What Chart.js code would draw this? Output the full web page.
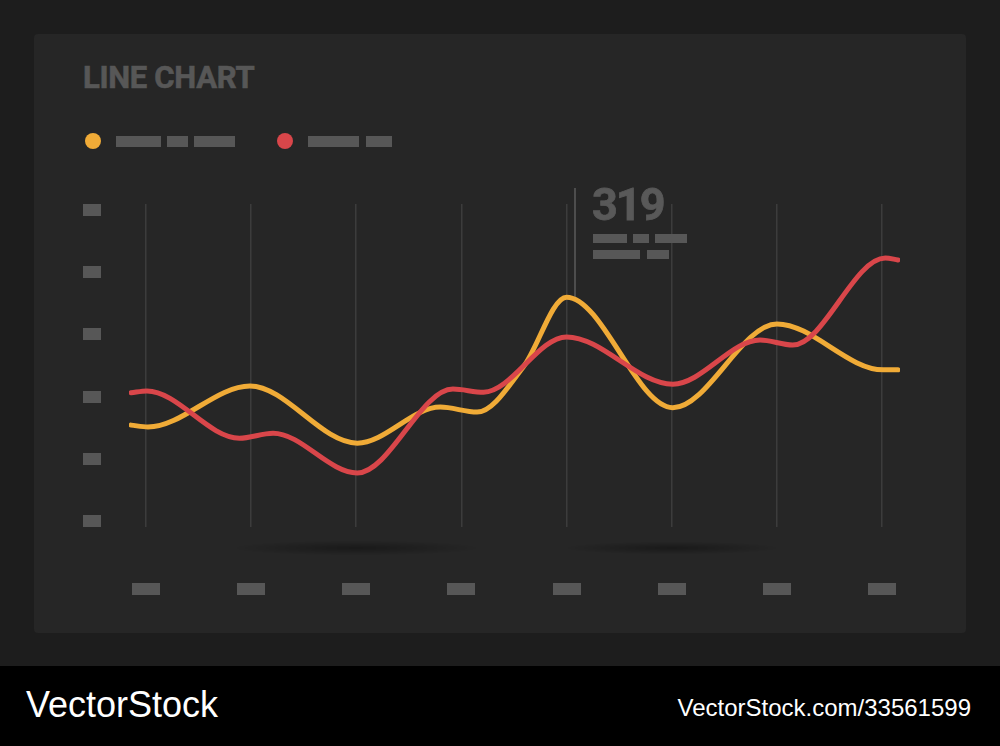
<!DOCTYPE html>
<html>
<head>
<meta charset="utf-8">
<script src="https://cdn.jsdelivr.net/npm/chart.js@4.4.0/dist/chart.umd.min.js"></script>
<style>
  html, body { margin: 0; padding: 0; }
  body { width: 1000px; height: 746px; background: #1d1d1d; position: relative; overflow: hidden; font-family: Roboto, sans-serif; }
  #panel { position: absolute; left: 34px; top: 34px; width: 932px; height: 599px; background: #262626; border-radius: 4px; }
  #title { position: absolute; left: 83px; top: 62px; font: 700 31px/1 Roboto, sans-serif; color: #575757; letter-spacing: -0.3px; white-space: nowrap; -webkit-text-stroke: 0.6px #575757; }
  #peak { position: absolute; left: 592px; top: 182px; font: 700 45px/1 Roboto, sans-serif; color: #595959; letter-spacing: -2px; -webkit-text-stroke: 0.8px #595959; }
  #wrap { position: absolute; left: 0; top: 0; width: 1000px; height: 666px; }
  #banner { position: absolute; left: 0; top: 666px; width: 1000px; height: 80px; background: #000; color: #fff; font-family: 'Liberation Sans', Arial, sans-serif; }
  #brand { position: absolute; left: 26px; top: 21px; font-size: 36px; line-height: 1; }
  #ref { position: absolute; right: 29px; top: 30px; font-size: 24px; line-height: 1; }
</style>
</head>
<body>
<div id="panel"></div>
<div id="title">LINE CHART</div>
<div id="wrap"><canvas id="lineChart" width="1000" height="666"></canvas></div>
<div id="peak"></div>
<div id="banner">
  <div id="brand">VectorStock</div>
  <div id="ref">VectorStock.com/33561599</div>
</div>
<script>
// values read off the picture; x is measured in grid columns (0..7)
// only the turning points are kept, the curve bends smoothly between them
const xTicks = [0, 1, 2, 3, 4, 5, 6, 7];
const yTicks = [0, 100, 200, 300, 400, 500];

const orangeX = [-0.14, 0.02, 0.99, 2.01, 2.80, 3.15, 3.59, 4.0, 5.01, 6.0, 7.01, 7.15];
const orangeY = [154, 151, 217, 125, 183, 175, 248, 360, 182, 317, 243, 243];

const redX = [-0.14, 0.01, 0.89, 1.21, 2.01, 2.92, 3.21, 4.0, 5.01, 5.84, 6.15, 7.03, 7.15];
const redY = [206, 209, 133, 141, 77, 212, 207, 296, 220, 291, 283, 423, 420];

const peakLabel = '319';
const peakX = 4.08;

const ORANGE = '#f0ab37';
const RED = '#d9464a';
const BLOCK = '#575757';

document.getElementById('peak').textContent = peakLabel;

function toPoints(xs, ys) {
    return xs.map((x, i) => ({ x: x, y: ys[i] }));
}

function block(ctx, x, y, w, h) {
    ctx.fillRect(Math.round(x), Math.round(y), Math.round(w), Math.round(h));
}

// placeholder ticks, legend, shadows and the peak marker
const decorations = {
    id: 'decorations',
    beforeDatasetsDraw(chart) {
        const ctx = chart.ctx;
        const xs = chart.scales.x;
        const ys = chart.scales.y;

        // soft shadows under the chart
        [[2.0, 1.15], [5.0, 1.0]].forEach(([cx, rx]) => {
            const px = xs.getPixelForValue(cx);
            const r = rx * 105;
            ctx.save();
            ctx.translate(px, 548);
            ctx.scale(1, 0.06);
            const g = ctx.createRadialGradient(0, 0, 0, 0, 0, r);
            g.addColorStop(0, 'rgba(0,0,0,0.32)');
            g.addColorStop(1, 'rgba(0,0,0,0)');
            ctx.fillStyle = g;
            ctx.beginPath();
            ctx.arc(0, 0, r, 0, Math.PI * 2);
            ctx.fill();
            ctx.restore();
        });

        ctx.save();
        ctx.fillStyle = BLOCK;
        yTicks.forEach(v => {
            const py = ys.getPixelForValue(v);
            block(ctx, 83, py - 6, 18, 12);
        });
        xTicks.forEach(v => {
            const px = xs.getPixelForValue(v);
            block(ctx, px - 14, 583, 28, 12);
        });

        // legend
        const legendItems = [
            { color: chart.data.datasets[0].borderColor, dot: 93, blocks: [[116, 45], [167, 21], [194, 41]] },
            { color: chart.data.datasets[1].borderColor, dot: 285, blocks: [[308, 51], [366, 26]] }
        ];
        legendItems.forEach(item => {
            ctx.fillStyle = item.color;
            ctx.beginPath();
            ctx.arc(item.dot, 141, 8, 0, Math.PI * 2);
            ctx.fill();
            ctx.fillStyle = BLOCK;
            item.blocks.forEach(([bx, bw]) => block(ctx, bx, 136, bw, 11));
        });

        // peak annotation
        const mx = xs.getPixelForValue(peakX);
        const my = ys.getPixelForValue(Math.max(...orangeY));
        ctx.strokeStyle = '#4d4d4d';
        ctx.lineWidth = 2;
        ctx.beginPath();
        ctx.moveTo(mx, 188);
        ctx.lineTo(mx, my);
        ctx.stroke();
        ctx.fillStyle = BLOCK;
        [[593, 34], [633, 16], [655, 32]].forEach(([bx, bw]) => block(ctx, bx, 234, bw, 9));
        [[593, 47], [647, 22]].forEach(([bx, bw]) => block(ctx, bx, 250, bw, 9));
        ctx.restore();
    }
};

const ctx = document.getElementById('lineChart').getContext('2d');
const chart = new Chart(ctx, {
    type: 'line',
    data: {
        datasets: [{
            label: 'Series 1',
            data: toPoints(orangeX, orangeY),
            borderColor: ORANGE,
            borderWidth: 5,
            pointRadius: 0,
            cubicInterpolationMode: 'monotone',
            borderCapStyle: 'round',
            borderJoinStyle: 'round',
            order: 2
        }, {
            label: 'Series 2',
            data: toPoints(redX, redY),
            borderColor: RED,
            borderWidth: 5,
            pointRadius: 0,
            cubicInterpolationMode: 'monotone',
            borderCapStyle: 'round',
            borderJoinStyle: 'round',
            order: 1
        }]
    },
    options: {
        responsive: false,
        animation: false,
        layout: { padding: { left: 129, top: 204, right: 100, bottom: 139 } },
        plugins: { legend: { display: false }, tooltip: { enabled: false } },
        scales: {
            x: {
                type: 'linear',
                min: -0.16,
                max: 7.17,
                ticks: { display: false, stepSize: 1, includeBounds: false },
                grid: { color: '#3c3c3c', lineWidth: 1.5, drawTicks: false },
                border: { display: false }
            },
            y: {
                min: -10,
                max: 510,
                ticks: { display: false, stepSize: 100, includeBounds: false },
                grid: { display: false, drawTicks: false },
                border: { display: false }
            }
        }
    },
    plugins: [decorations]
});
</script>
</body>
</html>
